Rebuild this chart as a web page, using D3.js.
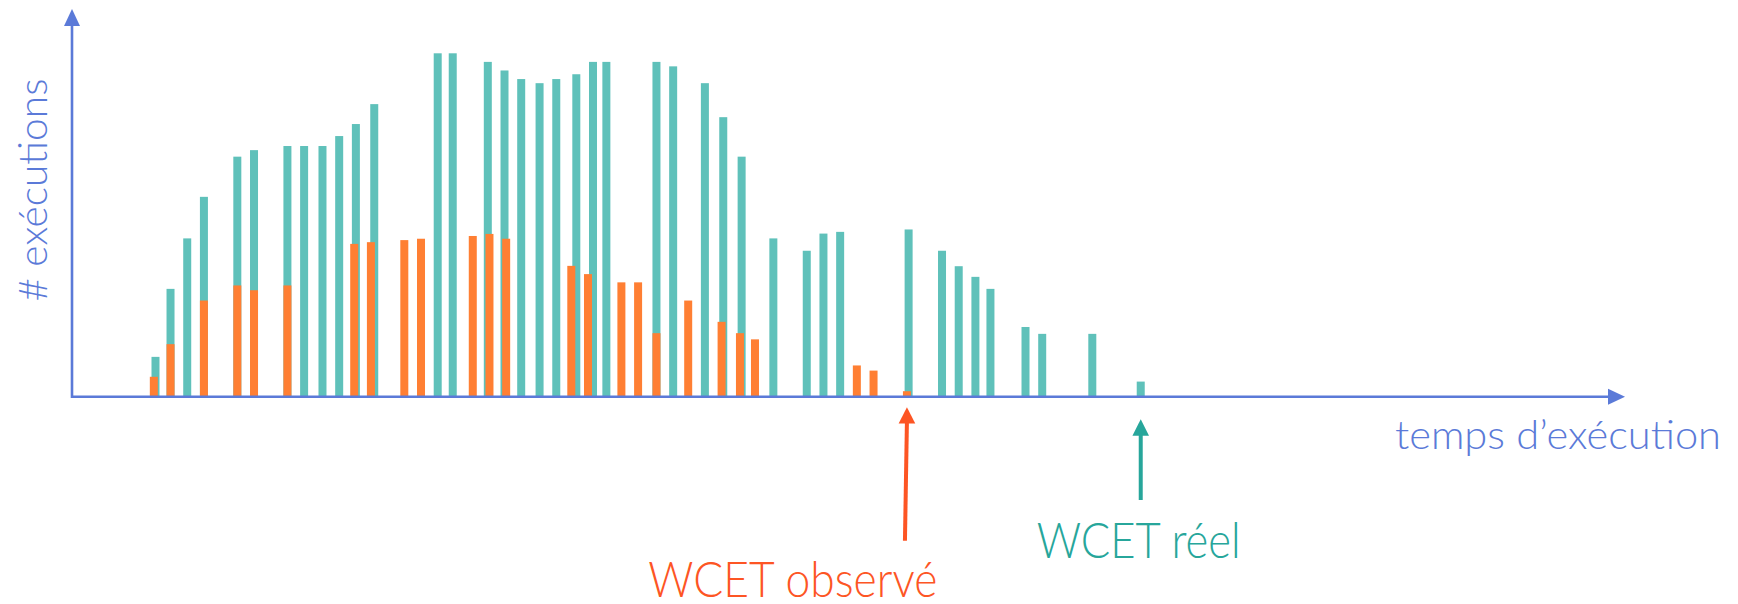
<!DOCTYPE html>
<html>
<head>
<meta charset="utf-8">
<script src="https://cdn.jsdelivr.net/npm/d3@7"></script>
<style>
  html, body { margin: 0; padding: 0; background: #ffffff; }
  svg { display: block; }
  text { font-family: Lato, "Open Sans", sans-serif; font-weight: 300; }
</style>
</head>
<body>
<svg id="chart" width="1738" height="604"></svg>
<script>
// ---- data (execution time bins, # executions) ----
const realTimes = [5.0, 5.9, 6.9, 7.9, 9.9, 10.9, 12.9, 13.9, 15.0, 16.0, 17.0, 18.1, 21.9, 22.8, 24.9, 25.9, 26.9, 28.0, 29.0, 30.2, 31.2, 32.0, 35.0, 36.0, 37.9, 39.0, 40.1, 42.0, 44.0, 45.0, 46.0, 50.1, 52.1, 53.1, 54.1, 55.0, 57.1, 58.1, 61.1, 64.0];
const realCounts = [11.6, 31.4, 46.1, 58.2, 69.9, 71.8, 73.0, 73.0, 73.0, 75.9, 79.4, 85.2, 100, 100, 97.5, 95.0, 92.5, 91.3, 92.5, 93.9, 97.5, 97.5, 97.5, 96.2, 91.3, 81.4, 69.9, 46.1, 42.5, 47.5, 48.0, 48.7, 42.5, 38.0, 34.9, 31.4, 20.3, 18.3, 18.3, 4.4];
const observedTimes = [4.9, 5.9, 7.9, 9.9, 10.9, 12.9, 16.9, 17.9, 19.9, 20.9, 24.0, 25.0, 26.0, 29.9, 30.9, 32.9, 33.9, 35.0, 36.9, 38.9, 40.0, 40.9, 47.0, 48.0, 50.0];
const observedCounts = [5.8, 15.3, 28.0, 32.4, 31.0, 32.4, 44.5, 45.0, 45.6, 46.0, 46.8, 47.4, 46.0, 38.1, 35.7, 33.3, 33.3, 18.5, 28.0, 21.8, 18.5, 16.7, 9.1, 7.6, 1.6];
const labels = {
  yAxis: "# exécutions",
  xAxis: "temps d’exécution",
  observed: "WCET observé",
  real: "WCET réel"
};

// ---- styles ----
const axisColor = "#5b7ad8";
const tealColor = "#5fc1ba";
const orangeColor = "#ff7f33";
const obsColor = "#fd5524";
const realColor = "#27a69b";

const svg = d3.select("#chart");
const x = d3.scaleLinear().domain([0, 93]).range([72, 1625]);
const y = d3.scaleLinear().domain([0, 100]).range([396.7, 53.3]);
const barW = 8;

const real = realTimes.map((t, i) => ({ t, v: realCounts[i] }));
const obs = observedTimes.map((t, i) => ({ t, v: observedCounts[i] }));

svg.append("rect").attr("width", 1738).attr("height", 604).attr("fill", "#fff");

// bars
svg.append("g").selectAll("rect").data(real).join("rect")
  .attr("x", d => x(d.t) - barW / 2)
  .attr("y", d => y(d.v))
  .attr("width", barW)
  .attr("height", d => y(0) - y(d.v))
  .attr("fill", tealColor);

svg.append("g").selectAll("rect").data(obs).join("rect")
  .attr("x", d => x(d.t) - barW / 2)
  .attr("y", d => y(d.v))
  .attr("width", barW)
  .attr("height", d => y(0) - y(d.v))
  .attr("fill", orangeColor);

// axes
const x0 = x(0), yBase = y(0);
svg.append("line").attr("x1", x0).attr("x2", 1610).attr("y1", yBase).attr("y2", yBase)
  .attr("stroke", axisColor).attr("stroke-width", 2.6);
svg.append("path").attr("d", `M1625,${yBase} L1608,${yBase - 8} L1608,${yBase + 8} Z`).attr("fill", axisColor);
svg.append("line").attr("x1", x0).attr("x2", x0).attr("y1", yBase + 1.3).attr("y2", 24)
  .attr("stroke", axisColor).attr("stroke-width", 2.6);
svg.append("path").attr("d", `M${x0},9 L${x0 - 8},26 L${x0 + 8},26 Z`).attr("fill", axisColor);

// axis labels
svg.append("text")
  .attr("transform", "translate(46.5,190) rotate(-90)")
  .attr("text-anchor", "middle")
  .attr("font-size", 40)
  .attr("fill", axisColor)
  .attr("textLength", 223).attr("lengthAdjust", "spacingAndGlyphs")
  .text(labels.yAxis);

svg.append("text")
  .attr("x", 1395).attr("y", 449.3)
  .attr("font-size", 40)
  .attr("fill", axisColor)
  .attr("textLength", 326).attr("lengthAdjust", "spacingAndGlyphs")
  .text(labels.xAxis);

// WCET markers
const obsX = x(d3.max(observedTimes));
const realX = x(d3.max(realTimes));

svg.append("line").attr("x1", obsX - 2).attr("y1", 540.7).attr("x2", obsX).attr("y2", 420)
  .attr("stroke", obsColor).attr("stroke-width", 4);
svg.append("path").attr("d", `M${obsX},407.3 L${obsX - 8.3},423.5 L${obsX + 8.3},423.5 Z`).attr("fill", obsColor);

svg.append("line").attr("x1", realX).attr("y1", 500).attr("x2", realX).attr("y2", 432)
  .attr("stroke", realColor).attr("stroke-width", 4);
svg.append("path").attr("d", `M${realX},419.3 L${realX - 8.3},435.7 L${realX + 8.3},435.7 Z`).attr("fill", realColor);

svg.append("text")
  .attr("x", 648.3).attr("y", 597)
  .attr("font-size", 49)
  .attr("fill", obsColor)
  .attr("textLength", 289).attr("lengthAdjust", "spacingAndGlyphs")
  .text(labels.observed);

svg.append("text")
  .attr("x", 1036.7).attr("y", 557.7)
  .attr("font-size", 49)
  .attr("fill", realColor)
  .attr("textLength", 204).attr("lengthAdjust", "spacingAndGlyphs")
  .text(labels.real);
</script>
</body>
</html>
